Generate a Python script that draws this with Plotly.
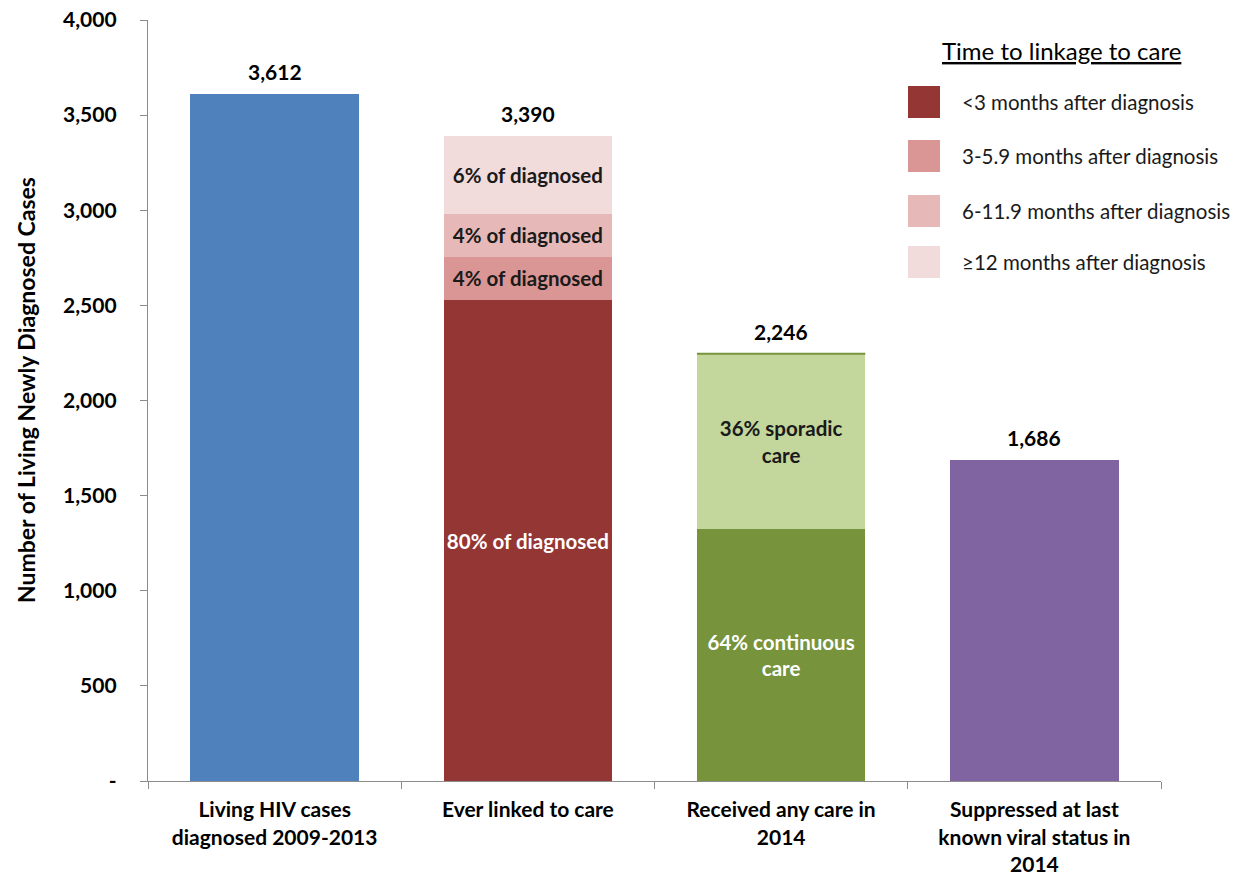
import plotly.graph_objects as go

# ---------------- data ----------------
categories = [
    "Living HIV cases<br>diagnosed 2009-2013",
    "Ever linked to care",
    "Received any care in<br>2014",
    "Suppressed at last<br>known viral status in<br>2014",
]
totals = [3612, 3390, 2246, 1686]
totals_text = ["3,612", "3,390", "2,246", "1,686"]

living_cases = [3612]
linked_lt3 = [2528]
linked_3_6 = [228]
linked_6_12 = [224]
linked_ge12 = [410]
care_continuous = [1323]
care_sporadic = [923]
suppressed = [1686]

linked_text = ["80% of diagnosed", "4% of diagnosed", "4% of diagnosed", "6% of diagnosed"]
care_text = ["64% continuous<br>care", "36% sporadic<br>care"]

legend_title = "Time to linkage to care"
legend_labels = [
    "<3 months after diagnosis",
    "3-5.9 months after diagnosis",
    "6-11.9 months after diagnosis",
    "\u226512 months after diagnosis",
]

y_tickvals = [0, 500, 1000, 1500, 2000, 2500, 3000, 3500, 4000]
y_ticktext = ["-", "500", "1,000", "1,500", "2,000", "2,500", "3,000", "3,500", "4,000"]

# ---------------- style ----------------
FONT = "Lato"
C_BLUE = "#4F81BD"
C_RED1 = "#943634"
C_RED2 = "#D99694"
C_RED3 = "#E6B9B8"
C_RED4 = "#F2DCDB"
C_GREEN_D = "#77933C"
C_GREEN_L = "#C3D69B"
C_PURPLE = "#8064A2"
AXIS_GREY = "#8C8C8C"
BAR_W = 0.665

W, H = 1247, 881
ML, MR, MT, MB = 148, 86, 20, 100
PW = W - ML - MR
PH = H - MT - MB


def px_x(px):
    return (px - ML) / PW


def px_y(py):
    return (H - MB - py) / PH


fig = go.Figure()


def add_bar(x, y, color, text=None, text_color="black"):
    fig.add_trace(go.Bar(
        x=x, y=y, width=BAR_W,
        marker=dict(color=color, line=dict(width=0)),
        text=text, textposition="inside" if text else "none",
        insidetextanchor="middle", textangle=0,
        insidetextfont=dict(family=FONT, size=20.5, color=text_color, weight="bold"),
        showlegend=False, hoverinfo="skip",
    ))


add_bar([categories[0]], living_cases, C_BLUE)
add_bar([categories[1]], linked_lt3, C_RED1, [linked_text[0]], "white")
add_bar([categories[1]], linked_3_6, C_RED2, [linked_text[1]], "#1a1a1a")
add_bar([categories[1]], linked_6_12, C_RED3, [linked_text[2]], "#1a1a1a")
add_bar([categories[1]], linked_ge12, C_RED4, [linked_text[3]], "#1a1a1a")
add_bar([categories[2]], care_continuous, C_GREEN_D, [care_text[0]], "white")
add_bar([categories[2]], care_sporadic, C_GREEN_L, [care_text[1]], "#1a1a1a")
add_bar([categories[3]], suppressed, C_PURPLE)

# top edge line on the "received any care" bar
fig.add_shape(type="line", xref="x", yref="y",
              x0=2 - BAR_W / 2, x1=2 + BAR_W / 2, y0=totals[2], y1=totals[2],
              line=dict(color=C_GREEN_D, width=2))

# total labels above bars
for i, (c, t, tt) in enumerate(zip(categories, totals, totals_text)):
    fig.add_annotation(x=i, y=t, xref="x", yref="y", text=tt, showarrow=False,
                       yanchor="bottom", yshift=8,
                       font=dict(family=FONT, size=21, color="black", weight="bold"))

# y-axis title
fig.add_annotation(x=px_x(26), y=px_y(390), xref="paper", yref="paper",
                   text="Number of Living Newly Diagnosed Cases", textangle=-90,
                   showarrow=False, xanchor="center", yanchor="middle",
                   font=dict(family=FONT, size=23, color="black", weight="bold"))

# custom legend
fig.add_annotation(x=px_x(1061), y=px_y(51), xref="paper", yref="paper",
                   text="<u>" + legend_title + "</u>", showarrow=False,
                   xanchor="center", yanchor="middle",
                   font=dict(family=FONT, size=24, color="black"))
legend_colors = [C_RED1, C_RED2, C_RED3, C_RED4]
legend_rows = [102, 156, 211, 262]
for col, lab, cy in zip(legend_colors, legend_labels, legend_rows):
    fig.add_shape(type="rect", xref="paper", yref="paper",
                  x0=px_x(908), x1=px_x(940), y0=px_y(cy + 16), y1=px_y(cy - 16),
                  fillcolor=col, line=dict(width=0))
    fig.add_annotation(x=px_x(960), y=px_y(cy), xref="paper", yref="paper",
                       text=lab, showarrow=False, xanchor="left", yanchor="middle",
                       font=dict(family=FONT, size=20.5, color="#1a1a1a"))

fig.update_layout(
    width=W, height=H,
    margin=dict(l=ML, r=MR, t=MT, b=MB, autoexpand=False),
    barmode="stack", bargap=1 - BAR_W,
    plot_bgcolor="white", paper_bgcolor="white",
    font=dict(family=FONT, color="black"),
    showlegend=False,
)
fig.update_xaxes(
    type="category", categoryorder="array", categoryarray=categories,
    range=[-0.5, 3.5],
    showline=True, linecolor=AXIS_GREY, linewidth=1.3,
    ticks="outside", tickson="boundaries", ticklen=7, tickcolor=AXIS_GREY,
    ticklabelstandoff=10,
    showgrid=False, zeroline=False,
    tickfont=dict(family=FONT, size=21, color="black", weight="bold"),
)
fig.update_yaxes(
    range=[0, 4000], tickvals=y_tickvals, ticktext=y_ticktext,
    showline=True, linecolor=AXIS_GREY, linewidth=1.3,
    ticks="outside", ticklen=7, tickcolor=AXIS_GREY,
    ticklabelstandoff=19,
    showgrid=False, zeroline=False,
    tickfont=dict(family=FONT, size=21, color="black", weight="bold"),
)

fig.write_html("out.html")
